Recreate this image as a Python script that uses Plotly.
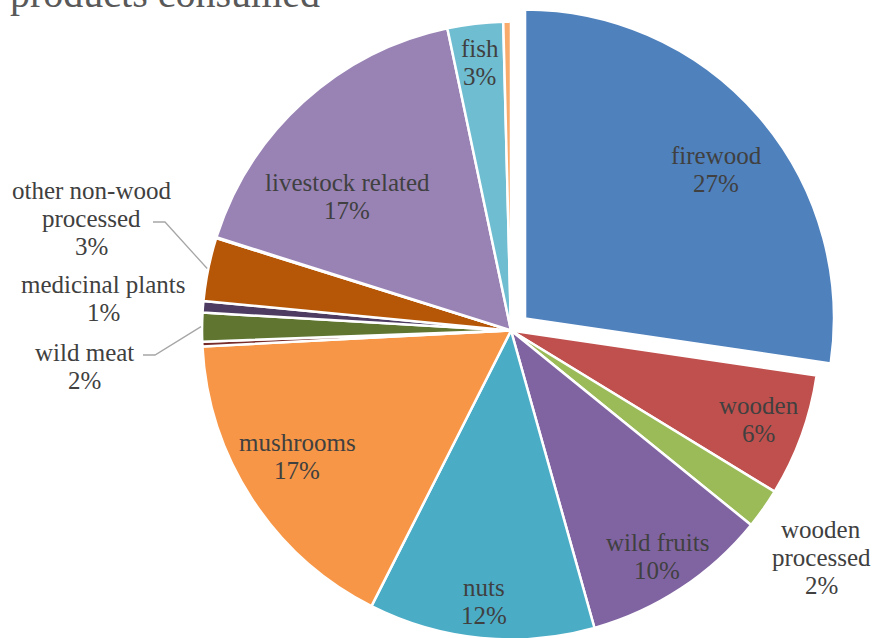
import math
import plotly.graph_objects as go

# Forest products consumed, share of total (%), clockwise from 12 o'clock
categories = [
    "firewood", "wooden", "wooden processed", "wild fruits", "nuts",
    "mushrooms", "other wild food", "wild meat", "medicinal plants",
    "other non-wood processed", "other non-wood", "livestock related",
    "fish", "other",
]
shares = [27.3, 6.4, 2.1, 9.8, 11.8, 16.7, 0.25, 1.5, 0.6, 3.3, 0.05, 16.8, 2.9, 0.4]
colors = [
    "#4F81BD", "#C0504D", "#9BBB59", "#8064A2", "#4BACC6", "#F79646",
    "#772C2A", "#5F7530", "#4D3B62", "#B65708", "#AFC97A", "#9983B5",
    "#6FBDD1", "#F9AB6B",
]
pulls = [0.06] + [0.0] * (len(categories) - 1)

# Label lines for the labelled slices; unlisted slices carry no label
label_lines = {
    "firewood": ["firewood"],
    "wooden": ["wooden"],
    "wooden processed": ["wooden", "processed"],
    "wild fruits": ["wild fruits"],
    "nuts": ["nuts"],
    "mushrooms": ["mushrooms"],
    "wild meat": ["wild meat"],
    "medicinal plants": ["medicinal plants"],
    "other non-wood processed": ["other non-wood", "processed"],
    "livestock related": ["livestock related"],
    "fish": ["fish"],
}
# label placement: (radius factor, angle nudge in degrees)
label_place = {
    "firewood": (0.78, 3.0),
    "wooden": (0.85, 0.0),
    "wooden processed": (1.24, 1.0),
    "wild fruits": (0.87, 0.5),
    "nuts": (0.88, 0.0),
    "mushrooms": (0.80, 2.5),
    "wild meat": (1.38, -5.5),
    "medicinal plants": (1.32, 0.0),
    "other non-wood processed": (1.40, 3.5),
    "livestock related": (0.68, -8.7),
    "fish": (0.87, 0.0),
}
# leader line elbows (px) and horizontal tail end (px) for outside labels
leaders = {
    "other non-wood processed": ((165, 222), (153, 222)),
    "wild meat": ((155, 355), (143, 355)),
}

W, H = 889, 658
MT, MB = 3, 0
CX, CY, R = 511.0, 330.0, 310.0
PH = H - MT - MB
box = 2 * R * (1 + max(pulls))
LINE = 28  # label line spacing, px
FONT = dict(family="Liberation Serif", size=25, color="#404040")


def to_paper(px, py):
    return px / W, 1 - (py - MT) / PH


half_w = box / 2 / W * 1.08
dom_x = [CX / W - half_w, CX / W + half_w]
dom_y = [1 - (CY + box / 2 - MT) / PH, 1 - (CY - box / 2 - MT) / PH]
dom_y = [max(0.0, dom_y[0]), min(1.0, dom_y[1])]

fig = go.Figure(
    go.Pie(
        labels=categories,
        values=shares,
        sort=False,
        direction="clockwise",
        rotation=0,
        pull=pulls,
        marker=dict(colors=colors, line=dict(color="white", width=2.5)),
        textinfo="none",
        hoverinfo="label+percent",
        showlegend=False,
        domain=dict(x=dom_x, y=dom_y),
    )
)

total = sum(shares)
annotations = []
shapes = []
start = 0.0
for name, val, pull in zip(categories, shares, pulls):
    span = val / total * 360
    mid = start + span / 2
    start += span
    if name not in label_lines:
        continue
    ox = CX + pull * R * math.sin(math.radians(mid))
    oy = CY - pull * R * math.cos(math.radians(mid))
    rf, nudge = label_place[name]
    ang = math.radians(mid + nudge)
    lx = ox + rf * R * math.sin(ang)
    ly = oy - rf * R * math.cos(ang)
    pct = round(val / total * 100)
    lines = label_lines[name] + [f"{pct}%"]
    top = ly - LINE * (len(lines) - 1) / 2
    for i, line in enumerate(lines):
        x, y = to_paper(lx, top + i * LINE)
        annotations.append(dict(
            x=x, y=y, xref="paper", yref="paper", showarrow=False,
            text=line, xanchor="center", yanchor="middle", font=FONT,
        ))
    if name in leaders:
        ex = CX + R * math.sin(math.radians(mid))
        ey = CY - R * math.cos(math.radians(mid))
        (bx, by), (tx, ty) = leaders[name]
        pts = [(ex, ey), (bx, by), (tx, ty)]
        path = "M " + " L ".join(
            f"{to_paper(px, py)[0]},{to_paper(px, py)[1]}" for px, py in pts
        )
        shapes.append(dict(type="path", path=path, xref="paper", yref="paper",
                           line=dict(color="#A6A6A6", width=1.3)))

# chart title (upper line runs off the top of the canvas)
tx, ty = to_paper(8, 18)
annotations.append(dict(
    x=tx, y=ty, xref="paper", yref="paper", showarrow=False,
    text="products consumed", xanchor="left", yanchor="bottom",
    font=dict(family="Liberation Serif", size=40, color="#595959"),
))

fig.update_layout(
    width=W, height=H,
    margin=dict(l=0, r=0, t=MT, b=MB),
    paper_bgcolor="white", plot_bgcolor="white",
    annotations=annotations, shapes=shapes,
)

fig.write_html(
    "out.html",
    post_script="document.documentElement.style.overflow='hidden';"
                "document.body.style.overflow='hidden';",
)
